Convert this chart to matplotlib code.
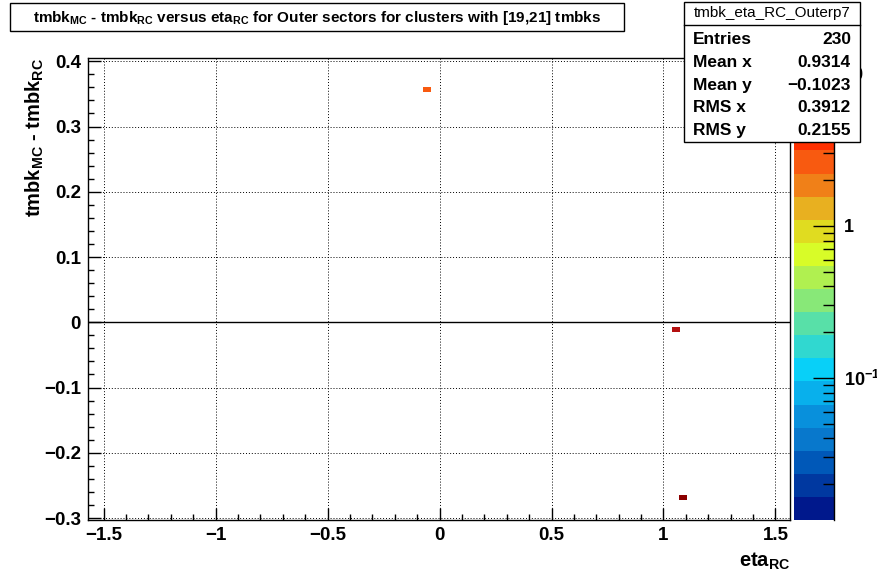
import numpy as np
import matplotlib
matplotlib.use("Agg")
import matplotlib.pyplot as plt
from matplotlib.colors import ListedColormap, LogNorm
from matplotlib.patches import Rectangle
from matplotlib.ticker import MultipleLocator, FixedLocator, LogLocator
import matplotlib.cm as cm

plt.rcParams["font.family"] = ["Liberation Sans", "DejaVu Sans"]
plt.rcParams["font.weight"] = "bold"
plt.rcParams["mathtext.fontset"] = "custom"
plt.rcParams["mathtext.rm"] = "Liberation Sans:bold"
plt.rcParams["mathtext.bf"] = "Liberation Sans:bold"
plt.rcParams["mathtext.default"] = "bf"

# Data: filled bins (centres) and their contents
cell_x = [-0.058, 1.056, 1.089]
cell_y = [0.356, -0.0115, -0.268]
cell_z = [2.6, 7.5, 11.0]
bin_w = 0.0357
bin_h = 0.0077

x_range = (-1.57, 1.565)
y_range = (-0.303, 0.405)
z_range = (0.0116, 12.7)

xticks = [-1.5, -1, -0.5, 0, 0.5, 1, 1.5]
xtick_labels = ["\u22121.5", "\u22121", "\u22120.5", "0", "0.5", "1", "1.5"]
yticks = [-0.3, -0.2, -0.1, 0, 0.1, 0.2, 0.3, 0.4]
ytick_labels = ["\u22120.3", "\u22120.2", "\u22120.1", "0", "0.1", "0.2", "0.3", "0.4"]

palette = ["#00188C", "#0038A0", "#0058B8", "#0878CC", "#0890DC",
           "#08B0EC", "#08D0F8", "#30D8D0", "#58E0A8", "#88E878",
           "#B0F050", "#D8FC28", "#E0DC20", "#E8B020", "#F08018",
           "#F85A10", "#FF3000", "#E01808", "#B41010", "#8B0000"]

stats_name = "tmbk_eta_RC_Outerp7"
stats_rows = [("Entries", "230"), ("Mean x", "0.9314"), ("Mean y", "\u22120.1023"),
              ("RMS x", "0.3912"), ("RMS y", "0.2155")]

W, H = 878, 578
fig = plt.figure(figsize=(W / 100, H / 100), dpi=100)

def fx(px):
    return px / W

def fy(py):
    return 1 - py / H

ax = fig.add_axes([fx(88), fy(520), fx(790) - fx(88), fy(58) - fy(520)])
cmap = ListedColormap(palette)
norm = LogNorm(vmin=z_range[0], vmax=z_range[1])

ax.bar(cell_x, [bin_h] * len(cell_x), width=bin_w,
       bottom=[y - bin_h / 2 for y in cell_y],
       color=[cmap(norm(z)) for z in cell_z], linewidth=0, zorder=3)

ax.axhline(0, color="black", lw=1, zorder=2)
ax.set_xlim(*x_range)
ax.set_ylim(*y_range)
ax.set_xticks(xticks)
ax.set_xticklabels(xtick_labels)
ax.set_yticks(yticks)
ax.set_yticklabels(ytick_labels)
ax.xaxis.set_minor_locator(MultipleLocator(0.1))
ax.yaxis.set_minor_locator(MultipleLocator(0.02))
ax.tick_params(which="both", direction="in", top=False, right=False, width=1)
ax.tick_params(which="major", length=9, labelsize=13.5, pad=5)
ax.tick_params(which="minor", length=4.5)
ax.grid(True, which="major", color="black", linestyle=(0, (1, 2)), lw=0.7)
for s in ax.spines.values():
    s.set_linewidth(1)

# colour scale
cax = fig.add_axes([fx(794), fy(520), fx(834) - fx(794), fy(58) - fy(520)])
sm = cm.ScalarMappable(norm=norm, cmap=cmap)
cb = fig.colorbar(sm, cax=cax)
cb.outline.set_visible(False)
cax.plot([1, 1], [0, 1], transform=cax.transAxes, color="black", lw=1, clip_on=False)
cax.yaxis.set_major_locator(FixedLocator([0.1, 1, 10]))
cax.yaxis.set_minor_locator(LogLocator(base=10, subs=np.arange(2, 10)))
cax.set_yticklabels(["10$^{\u22121}$", "1", "10"])
cax.tick_params(which="both", direction="in", right=True, width=1)
cax.tick_params(which="major", length=15, labelsize=13, pad=7)
cax.tick_params(which="minor", length=8)

# axis titles
fig.text(fx(35), fy(58), "tmbk$_{MC}$ - tmbk$_{RC}$", rotation=90,
         ha="center", va="top", fontsize=14.5, fontweight="bold")
fig.text(fx(790), fy(567), "eta$_{RC}$", ha="right", va="baseline",
         fontsize=14.5, fontweight="bold")

# title box
fig.add_artist(Rectangle((fx(10), fy(31)), fx(624) - fx(10), fy(3) - fy(31),
                         transform=fig.transFigure, facecolor="white",
                         edgecolor="black", lw=1))
fig.text(fx(317), fy(18), "tmbk$_{MC}$ - tmbk$_{RC}$ versus eta$_{RC}$ for Outer sectors "
         "for clusters with [19,21] tmbks", ha="center", va="center",
         fontsize=11, fontweight="bold")

# stats box
fig.add_artist(Rectangle((fx(684), fy(142)), fx(860) - fx(684), fy(2) - fy(142),
                         transform=fig.transFigure, facecolor="white",
                         edgecolor="black", lw=1, zorder=5))
fig.add_artist(plt.Line2D([fx(684), fx(860)], [fy(25), fy(25)],
                          transform=fig.transFigure, color="black", lw=1, zorder=6))
fig.text(fx(772), fy(13), stats_name, ha="center", va="center",
         fontsize=11, fontweight="normal", zorder=7)
for i, (lab, val) in enumerate(stats_rows):
    yy = fy(40 + i * 22.6)
    fig.text(fx(693), yy, lab, ha="left", va="center", fontsize=12.5,
             fontweight="bold", zorder=7)
    fig.text(fx(851), yy, val, ha="right", va="center", fontsize=12.5,
             fontweight="bold", zorder=7)

fig.savefig("out.png", dpi=100)
